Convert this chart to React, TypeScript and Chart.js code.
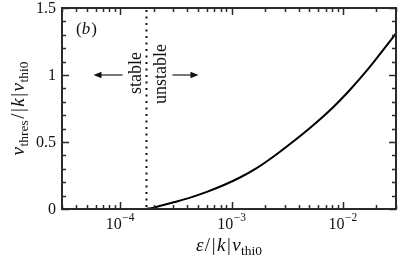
import React, { useEffect, useRef } from "react";
import { Chart, registerables } from "chart.js";

Chart.register(...registerables);

// ---- data ----
const epsilon = [1.71e-4, 1.99e-4, 3.01e-4, 4.25e-4, 6.0e-4, 8.44e-4, 1.19e-3, 1.68e-3, 2.37e-3, 3.35e-3, 5.06e-3, 8.18e-3, 1.16e-2, 1.63e-2, 2.15e-2, 3.0e-2];
const nuThres = [0, 0.01, 0.05, 0.085, 0.128, 0.177, 0.235, 0.305, 0.39, 0.485, 0.605, 0.76, 0.89, 1.03, 1.155, 1.31];
const thresholdEps = 1.71e-4;
const arrowLevel = 1.0;
const xMin = 3e-5;
const xMax = 3e-2;
const yMin = 0;
const yMax = 1.5;
const yMajorTicks = [0, 0.5, 1, 1.5];
const yTickLabels = ["0", "0.5", "1", "1.5"];
const yMinorStep = 0.1;
const xMajorExps = [-4, -3, -2];
const xTickLabels = ["10", "10", "10"];
const xTickExps = ["\u22124", "\u22123", "\u22122"];
const panelLabel = ["(", "b", ")"];
const leftText = "stable";
const rightText = "unstable";

const SERIF = '"Liberation Serif", "DejaVu Serif", serif';
const FRAME = "#2a2a2a";

type Seg = { t: string; size: number; italic?: boolean; dy?: number; gap?: number };

function drawRich(ctx: CanvasRenderingContext2D, segs: Seg[], x: number, y: number, align: "center" | "left" | "right") {
  const widths = segs.map((s) => {
    ctx.font = `${s.italic ? "italic " : ""}${s.size}px ${SERIF}`;
    return ctx.measureText(s.t).width + (s.gap || 0);
  });
  const total = widths.reduce((a, b) => a + b, 0);
  let cx = align === "center" ? x - total / 2 : align === "right" ? x - total : x;
  ctx.textAlign = "left";
  ctx.textBaseline = "alphabetic";
  segs.forEach((s, i) => {
    ctx.font = `${s.italic ? "italic " : ""}${s.size}px ${SERIF}`;
    ctx.fillText(s.t, cx, y + (s.dy || 0));
    cx += widths[i];
  });
}

const titleTail = (): Seg[] => [
  { t: "/", size: 19, gap: 1.5 },
  { t: "|", size: 19, gap: 1.5 },
  { t: "k", size: 19, italic: true, gap: 1.5 },
  { t: "|", size: 19, gap: 1.5 },
  { t: "v", size: 19, italic: true, gap: 0.5 },
  { t: "thi0", size: 13.5, dy: 4 },
];

const decorPlugin = {
  id: "decor",
  afterDatasetsDraw(chart: any) {
    const ctx: CanvasRenderingContext2D = chart.ctx;
    const { left, right, top, bottom } = chart.chartArea;
    const xs = chart.scales.x;
    const ys = chart.scales.y;
    ctx.save();

    // dotted threshold line
    const tx = Math.round(xs.getPixelForValue(thresholdEps)) + 0.5;
    ctx.strokeStyle = "#111";
    ctx.lineWidth = 2;
    ctx.setLineDash([2, 4.5]);
    ctx.beginPath();
    ctx.moveTo(tx, top + 2);
    ctx.lineTo(tx, bottom);
    ctx.stroke();
    ctx.setLineDash([]);

    // frame
    ctx.strokeStyle = FRAME;
    ctx.lineWidth = 2;
    ctx.strokeRect(left, top, right - left, bottom - top);

    // y ticks
    ctx.lineWidth = 1.5;
    const nMinor = Math.round((yMax - yMin) / yMinorStep);
    for (let i = 0; i <= nMinor; i++) {
      const v = yMin + i * yMinorStep;
      const isMajor = yMajorTicks.some((m) => Math.abs(m - v) < 1e-9);
      const len = isMajor ? 7 : 4;
      const py = Math.round(ys.getPixelForValue(v)) + 0.5;
      ctx.beginPath();
      ctx.moveTo(left, py);
      ctx.lineTo(left + len, py);
      ctx.moveTo(right, py);
      ctx.lineTo(right - len, py);
      ctx.stroke();
    }
    // x ticks
    for (let e = -5; e <= -1; e++) {
      for (let k = 1; k <= 9; k++) {
        const v = k * Math.pow(10, e);
        if (v < xMin * 0.999 || v > xMax * 1.001) continue;
        const len = k === 1 ? 7 : 4;
        const px = Math.round(xs.getPixelForValue(v)) + 0.5;
        ctx.beginPath();
        ctx.moveTo(px, bottom);
        ctx.lineTo(px, bottom - len);
        ctx.moveTo(px, top);
        ctx.lineTo(px, top + len);
        ctx.stroke();
      }
    }

    ctx.fillStyle = "#111";
    // y tick labels
    ctx.font = `16px ${SERIF}`;
    ctx.textAlign = "right";
    ctx.textBaseline = "middle";
    yMajorTicks.forEach((v, i) => {
      ctx.fillText(yTickLabels[i], left - 6, ys.getPixelForValue(v) + 1);
    });
    // x tick labels
    xMajorExps.forEach((e, i) => {
      const px = xs.getPixelForValue(Math.pow(10, e));
      drawRich(
        ctx,
        [
          { t: xTickLabels[i], size: 16, gap: 0.5 },
          { t: xTickExps[i], size: 11.5, dy: -8 },
        ],
        px,
        bottom + 20,
        "center"
      );
    });

    // x axis title
    drawRich(
      ctx,
      [{ t: "\u03b5", size: 19, italic: true, gap: 1.5 }, ...titleTail()],
      (left + right) / 2,
      bottom + 42,
      "center"
    );

    // y axis title
    ctx.save();
    ctx.translate(24, (top + bottom) / 2);
    ctx.rotate(-Math.PI / 2);
    drawRich(
      ctx,
      [
        { t: "\u03bd", size: 19, italic: true, gap: 0.5 },
        { t: "thres", size: 13.5, dy: 4, gap: 1.5 },
        ...titleTail(),
      ],
      0,
      0,
      "center"
    );
    ctx.restore();

    // panel label
    drawRich(
      ctx,
      [
        { t: panelLabel[0], size: 17 },
        { t: panelLabel[1], size: 17, italic: true, gap: 1 },
        { t: panelLabel[2], size: 17 },
      ],
      left + 14,
      top + 26,
      "left"
    );

    // rotated texts
    const ay = ys.getPixelForValue(arrowLevel);
    ctx.font = `18px ${SERIF}`;
    ctx.textAlign = "center";
    ctx.textBaseline = "alphabetic";
    ctx.save();
    ctx.translate(tx - 6, ay - 2);
    ctx.rotate(-Math.PI / 2);
    ctx.fillText(leftText, 0, 0);
    ctx.restore();
    ctx.save();
    ctx.translate(tx + 19, ay - 1);
    ctx.rotate(-Math.PI / 2);
    ctx.fillText(rightText, 0, 0);
    ctx.restore();

    // arrows
    const drawArrow = (x0: number, x1: number) => {
      const dir = Math.sign(x1 - x0);
      ctx.strokeStyle = "#555";
      ctx.lineWidth = 1.6;
      ctx.beginPath();
      ctx.moveTo(x0, ay);
      ctx.lineTo(x1 - dir * 6, ay);
      ctx.stroke();
      ctx.fillStyle = "#111";
      ctx.beginPath();
      ctx.moveTo(x1, ay);
      ctx.lineTo(x1 - dir * 8, ay - 3.2);
      ctx.lineTo(x1 - dir * 8, ay + 3.2);
      ctx.closePath();
      ctx.fill();
    };
    drawArrow(tx - 24, tx - 53);
    drawArrow(tx + 26, tx + 52);

    ctx.restore();
  },
};

export default function App() {
  const ref = useRef<HTMLCanvasElement>(null);
  useEffect(() => {
    document.body.style.margin = "0";
    const canvas = ref.current!;
    const chart = new Chart(canvas, {
      type: "line",
      data: {
        datasets: [
          {
            data: epsilon.map((x, i) => ({ x, y: nuThres[i] })),
            borderColor: "#000",
            borderWidth: 2,
            pointRadius: 0,
            cubicInterpolationMode: "monotone",
            fill: false,
          },
        ],
      },
      options: {
        responsive: false,
        animation: false,
        events: [],
        layout: { padding: { left: 62, right: 3, top: 8, bottom: 49 } },
        plugins: { legend: { display: false }, tooltip: { enabled: false } },
        scales: {
          x: { type: "logarithmic", min: xMin, max: xMax, display: false },
          y: { type: "linear", min: yMin, max: yMax, display: false },
        },
      },
      plugins: [decorPlugin],
    });
    return () => chart.destroy();
  }, []);
  return (
    <div style={{ position: "fixed", left: 0, top: 0, width: 399, height: 258, background: "#fff" }}>
      <canvas ref={ref} width={399} height={258} style={{ display: "block" }} />
    </div>
  );
}
